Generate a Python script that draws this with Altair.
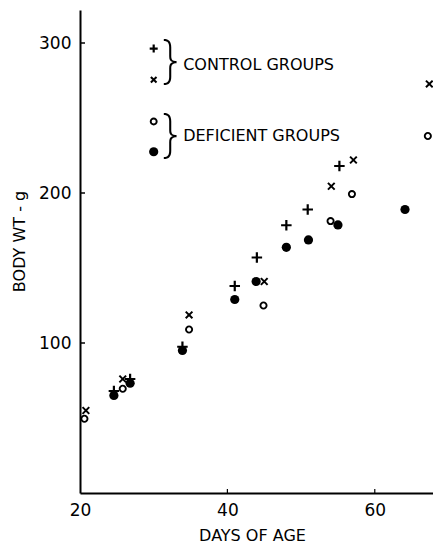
import altair as alt
import pandas as pd

# ---- data ----
x_ticks = [20, 40, 60]
y_ticks = [100, 200, 300]

plus_days = [24.6, 26.8, 33.9, 41.0, 44.0, 48.0, 50.9, 55.2]
plus_wt = [68, 76, 97.5, 138, 157, 178.5, 189, 218]

cross_days = [20.8, 25.8, 34.8, 45.0, 54.1, 57.1, 67.4]
cross_wt = [55, 76, 118.7, 141, 204.5, 222, 272.7]

open_days = [20.6, 25.8, 34.8, 44.9, 54.0, 56.9, 67.2]
open_wt = [49.5, 69.5, 109, 125, 181.3, 199.3, 238]

filled_days = [24.6, 26.8, 33.9, 41.0, 43.9, 48.0, 51.0, 55.0, 64.1]
filled_wt = [65, 73.2, 95, 129, 141, 163.8, 168.7, 178.7, 189]

# legend (placed in data coordinates)
legend_sym_day = [30.0]
legend_plus_wt = [296.3]
legend_cross_wt = [275.5]
legend_open_wt = [247.7]
legend_filled_wt = [227.5]
legend_labels = ["CONTROL GROUPS", "DEFICIENT GROUPS"]
legend_label_day = [34.0, 34.0]
legend_label_wt = [285.3, 237.7]
brace_day = [32.25, 32.25]
brace_wt = [287.0, 237.3]


def df(days, wt, **extra):
    d = pd.DataFrame({"day": days, "wt": wt})
    for k, v in extra.items():
        d[k] = v
    return d


FONT = "DejaVu Sans"

xs = alt.Scale(domain=[20, 67.9], nice=False, zero=False)
ys = alt.Scale(domain=[0, 322], nice=False, zero=False)

X = alt.X(
    "day:Q",
    scale=xs,
    title="DAYS OF AGE",
    axis=alt.Axis(
        values=x_ticks,
        ticks=False,
        grid=False,
        labelFlush=False,
        domainColor="black",
        domainWidth=2,
        labelFont=FONT,
        labelFontSize=17,
        labelColor="black",
        labelPadding=9,
        titleFont=FONT,
        titleFontSize=16,
        titleFontWeight="normal",
        titleColor="black",
        titleX=172,
        titleY=47,
        titleBaseline="alphabetic",
        titleAlign="center",
    ),
)
Y = alt.Y(
    "wt:Q",
    scale=ys,
    title="BODY WT - g",
    axis=alt.Axis(
        values=y_ticks,
        ticks=False,
        grid=False,
        domainColor="black",
        domainWidth=2,
        labelFont=FONT,
        labelFontSize=17,
        labelColor="black",
        labelPadding=9,
        titleFont=FONT,
        titleFontSize=16,
        titleFontWeight="normal",
        titleColor="black",
        titleAngle=270,
        titleX=-53,
        titleY=231,
        titleBaseline="bottom",
        titleAlign="center",
    ),
)

PLUS = "M-1,0L1,0M0,-1L0,1"
CROSS = "M-1,-1L1,1M-1,1L1,-1"


def plus_layer(data, size):
    return alt.Chart(data).mark_point(
        shape=PLUS, filled=False, stroke="black", strokeWidth=2.2, size=size, opacity=1
    ).encode(x=X, y=Y)


def cross_layer(data, size):
    return alt.Chart(data).mark_point(
        shape=CROSS, filled=False, stroke="black", strokeWidth=2, size=size, opacity=1
    ).encode(x=X, y=Y)


def open_layer(data, size):
    return alt.Chart(data).mark_point(
        shape="circle", filled=False, stroke="black", fill="white",
        strokeWidth=1.9, size=size, opacity=1
    ).encode(x=X, y=Y)


def filled_layer(data, size):
    return alt.Chart(data).mark_point(
        shape="circle", filled=True, color="black", size=size, opacity=1
    ).encode(x=X, y=Y)


ytick = alt.Chart(df([None] * 3, y_ticks)).mark_rule(color="black", strokeWidth=1.5).encode(
    y=Y, x=alt.value(0), x2=alt.value(5)
)
xtick = alt.Chart(df(x_ticks[1:], [None] * 2)).mark_rule(color="black", strokeWidth=1.2).encode(
    x=X, y=alt.value(479), y2=alt.value(483)
)

legend_text = alt.Chart(
    df(legend_label_day, legend_label_wt, label=legend_labels)
).mark_text(
    align="left", baseline="middle", font=FONT, fontSize=16, color="black"
).encode(x=X, y=Y, text="label:N")

braces = alt.Chart(df(brace_day, brace_wt, label=["}", "}"])).mark_text(
    align="center", baseline="middle", font="Inter", fontWeight=200, fontSize=50, color="black"
).encode(x=X, y=Y, text="label:N")

chart = alt.layer(
    ytick,
    xtick,
    plus_layer(df(plus_days, plus_wt), 110),
    cross_layer(df(cross_days, cross_wt), 45),
    open_layer(df(open_days, open_wt), 38),
    filled_layer(df(filled_days, filled_wt), 85),
    plus_layer(df(legend_sym_day, legend_plus_wt), 64),
    cross_layer(df(legend_sym_day, legend_cross_wt), 32),
    open_layer(df(legend_sym_day, legend_open_wt), 36),
    filled_layer(df(legend_sym_day, legend_filled_wt), 85),
    legend_text,
    braces,
).properties(
    width=353,
    height=483,
    padding={"left": 72, "top": 2, "right": 0, "bottom": 52},
    autosize=alt.AutoSizeParams(type="none"),
    background="white",
).configure_view(stroke=None)

chart.save("out.html", embed_options={"renderer": "svg", "actions": False})
